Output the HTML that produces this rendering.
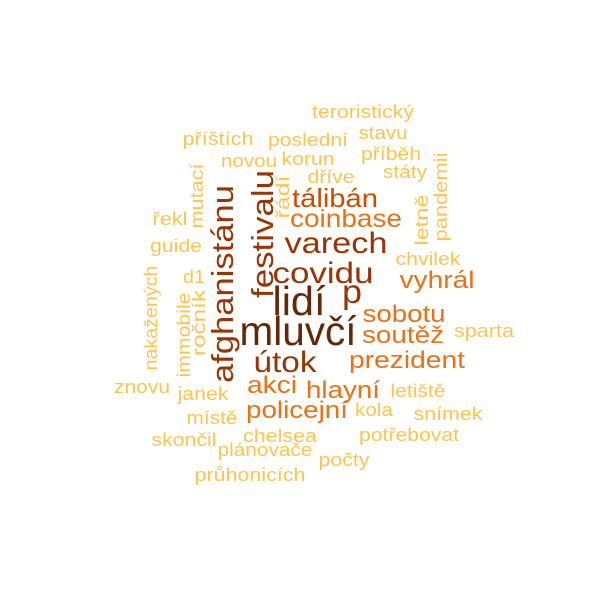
<!DOCTYPE html>
<html><head><meta charset="utf-8"><style>
html,body{margin:0;padding:0;background:#fff;}
svg{display:block;}
text{font-family:"Liberation Sans",sans-serif;}
</style></head><body>
<svg id="cloud" width="600" height="600" viewBox="0 0 600 600">
<rect width="600" height="600" fill="#fff"/>
</svg>
<script>
const words = ["teroristický","příštích","poslední","stavu","příběh","novou","korun","dříve","státy","řekl","guide","d1","chvilek","sparta","znovu","janek","letiště","místě","kola","snímek","skončil","chelsea","potřebovat","plánovače","počty","průhonicích","mutací","řádí","pandemii","letně","nakažených","immobile","ročník","afghanistánu","festivalu","tálibán","coinbase","varech","covidu","vyhrál","lidí","p","sobotu","mluvčí","soutěž","útok","prezident","akci","hlayní","policejní"];
const sizes = [18,18,18,18,18,18,18,18,18,18,18,18,18,18,18,18,18,18,18,18,18,18,18,18,18,18,18,18,18,18,18,18,18,31,31,26,25,30,30,24,41,33,24,41,24,30,24,24,24,24];
const tones = [0,0,0,0,0,0,0,0,0,0,0,0,0,0,0,0,0,0,0,0,0,0,0,0,0,0,0,0,0,0,0,0,0,3,3,2,1,3,3,1,4,3,1,4,1,3,1,1,1,1];
const cx = [363,218,308,383,391,249,308,331,405,170,176,194,428,484,142,203,418,212,374,448,184,280,409,265,344,250,203,289,447,428,157,190,205,233,273,335,346,336,323,437,299,352,404,298,403,285,407,272,343,297];
const cy = [118,145,146,139,160,167,165,183,178,225,252,283,265,337,393,400,397,424,416,420,446,442,441,456,466,481,196,197,197,220,318,335,323,284,234,207,227,253,283,288,315,303,322,345,343,372,368,393,398,418];
const widths = [102,71,80,49,60,56,53,47,44,35,52,22,65,60,56,51,55,51,38,69,65,74,100,95,51,111,65,43,89,51,105,85,66,198,128,86,112,103,101,75,53,20,83,117,82,63,116,50,74,102];
const vertical = [0,0,0,0,0,0,0,0,0,0,0,0,0,0,0,0,0,0,0,0,0,0,0,0,0,0,1,1,1,1,1,1,1,1,1,0,0,0,0,0,0,0,0,0,0,0,0,0,0,0];
const palette = ["#FEC44F","#EC7014","#CC4C02","#993404","#662506"];
const svg = document.getElementById('cloud');
const NS = "http://www.w3.org/2000/svg";
for (let i = 0; i < words.length; i++) {
  const t = document.createElementNS(NS, 'text');
  
  
  t.setAttribute('font-size', sizes[i]);
  t.setAttribute('fill', palette[tones[i]]);
  t.setAttribute('text-anchor', 'middle');
  t.setAttribute('textLength', widths[i]);
  t.setAttribute('lengthAdjust', 'spacingAndGlyphs');
  if (vertical[i]) {
    t.setAttribute('transform', 'translate(' + cx[i] + ',' + cy[i] + ') rotate(-90)');
    t.setAttribute('x', 0);
    t.setAttribute('y', 0);
  } else {
    t.setAttribute('x', cx[i]);
    t.setAttribute('y', cy[i]);
  }
  t.textContent = words[i];
  svg.appendChild(t);
}
</script>
</body></html>
